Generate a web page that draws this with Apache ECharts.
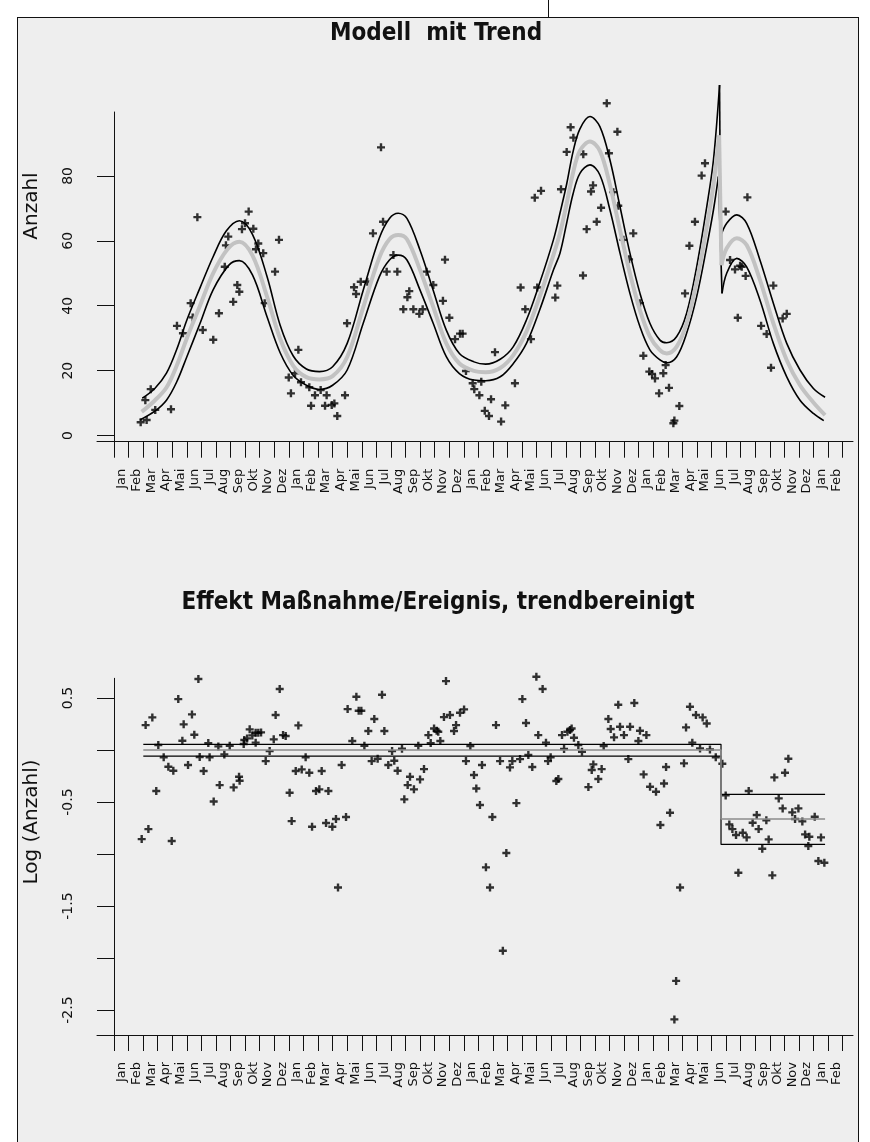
<!DOCTYPE html>
<html>
<head>
<meta charset="utf-8">
<title>Modell mit Trend</title>
<script src="https://cdn.jsdelivr.net/npm/echarts@6/dist/echarts.min.js"></script>
<style>
  html, body { margin: 0; padding: 0; background: #fff; }
  #panel { position: absolute; left: 17px; top: 17px; width: 840px; height: 1140px; background: #eeeeee; border: 1px solid #111; }
  #mark { position: absolute; left: 548px; top: 0; width: 1px; height: 17px; background: #111; }
  #main { position: absolute; left: 0; top: 0; width: 870px; height: 1142px; }
</style>
</head>
<body>
<div id="mark"></div>
<div id="panel"></div>
<div id="main"></div>
<script>
// Monatsnamen der x-Achse (Ticks 1..50)
var monate = ['Jan','Feb','Mar','Apr','Mai','Jun','Jul','Aug','Sep','Okt','Nov','Dez'];
var monthLabels = monate.concat(monate, monate, monate, ['Jan','Feb']);

// Beobachtete Anzahl je Woche [Monat, Anzahl]
var anzahlPts = [
  [1.83,4.1],[2.15,10.9],[2.24,4.8],[2.52,14.3],[2.83,7.9],[3.91,8.1],[4.32,33.8],[4.73,31.5],[5.26,40.8],[5.40,36.4],
  [5.72,67.3],[6.09,32.5],[6.81,29.5],[7.20,37.7],[7.60,52.0],[7.68,58.6],[7.84,61.3],[8.18,41.2],[8.46,46.4],[8.60,44.3],
  [8.78,63.6],[8.99,65.4],[9.24,69.0],[9.56,63.7],[9.74,57.4],[9.90,59.2],[10.24,56.2],[10.34,40.8],[11.05,50.5],[11.32,60.3],
  [11.99,17.9],[12.14,13.0],[12.42,19.2],[12.65,26.4],[12.83,16.4],[13.40,14.9],[13.52,9.2],[13.79,12.4],[14.18,14.0],[14.48,9.2],
  [14.59,12.4],[14.94,9.4],[15.12,9.9],[15.32,6.0],[15.85,12.4],[15.99,34.6],[16.47,45.7],[16.61,43.6],[16.93,47.4],[17.38,47.4],
  [17.77,62.3],[18.32,88.8],[18.46,65.9],[18.71,50.5],[19.17,55.6],[19.44,50.5],[19.85,38.9],[20.13,42.6],[20.26,44.5],[20.54,38.9],
  [20.95,37.5],[21.18,38.9],[21.45,50.5],[21.91,46.4],[22.57,41.5],[22.71,54.2],[23.01,36.3],[23.40,29.7],[23.74,31.4],[23.92,31.4],
  [24.15,19.9],[24.61,16.1],[24.72,14.3],[25.07,12.4],[25.20,16.6],[25.44,7.6],[25.73,6.0],[25.87,11.2],[26.14,25.7],[26.56,4.3],
  [26.85,9.3],[27.51,16.1],[27.90,45.6],[28.22,38.9],[28.61,29.7],[28.87,73.3],[29.04,45.6],[29.30,75.4],[30.28,42.5],[30.42,46.2],
  [30.67,75.9],[31.06,87.4],[31.33,95.0],[31.52,91.8],[32.18,49.3],[32.20,86.7],[32.43,63.6],[32.73,75.2],[32.87,77.1],[33.12,65.9],
  [33.42,70.2],[33.81,102.4],[33.96,87.0],[34.26,75.0],[34.54,93.6],[34.60,70.8],[34.95,60.3],[35.34,54.3],[35.63,62.3],[36.09,40.8],
  [36.32,24.6],[36.73,19.7],[36.92,19.0],[37.12,17.6],[37.40,13.0],[37.69,19.2],[37.85,21.7],[38.08,14.7],[38.38,3.8],[38.45,4.6],
  [38.79,9.1],[39.18,43.8],[39.48,58.5],[39.86,65.9],[40.32,80.1],[40.55,83.9],[41.97,69.0],[42.27,54.1],[42.61,51.2],[42.80,36.3],
  [42.96,52.3],[43.07,52.0],[43.34,49.2],[43.46,73.4],[44.40,33.8],[44.78,31.3],[45.08,20.9],[45.24,46.2],[45.88,36.1],[46.16,37.5]
];

// Modell: Obergrenze, Mitte, Untergrenze (vor / nach dem Sprung)
var upperPre = [
  [1.94,11.5],[2.8,14.5],[3.6,19.2],[4.3,26.5],[5.0,35.6],[5.9,45.5],[6.8,55.1],[7.7,63.0],[8.6,66.2],[9.5,62.0],
  [10.5,49.0],[11.4,34.0],[12.3,24.5],[13.2,20.5],[14.1,19.7],[15.0,21.2],[16.0,28.4],[17.1,44.8],[18.2,60.8],[18.9,66.9],
  [19.5,68.5],[20.1,66.9],[21.0,57.1],[21.9,44.8],[22.8,32.5],[23.7,25.3],[24.7,22.7],[25.5,22.0],[26.5,23.5],[27.4,27.4],
  [28.3,35.6],[29.2,46.9],[30.15,60.3],[30.6,68.5],[31.06,77.5],[31.5,87.5],[31.97,94.5],[32.66,98.3],[33.34,95.2],[34.03,84.9],
  [34.72,70.5],[35.4,56.2],[36.09,43.8],[36.77,34.6],[37.46,29.4],[37.92,28.6],[38.61,30.5],[39.29,37.7],[39.98,52.0],[40.67,70.5],
  [41.13,84.9],[41.55,108.0]
];
var upperPost = [[41.62,61.3],[42.04,65.4],[42.73,68.0],[43.41,65.4],[44.32,54.1],[45.24,40.8],[46.16,28.4],[47.07,20.2],[47.99,14.5],[48.79,11.8]];
var centerPre = [
  [1.9,7.3],[2.8,10.8],[3.6,14.8],[4.3,21.5],[5.0,30.0],[5.9,40.0],[6.8,50.0],[7.8,57.5],[8.6,59.7],[9.5,55.5],
  [10.5,42.8],[11.4,29.8],[12.3,21.5],[13.2,18.0],[14.1,17.3],[15.0,18.3],[16.0,24.2],[17.1,39.5],[18.2,54.8],[18.9,60.5],
  [19.5,61.8],[20.1,60.5],[21.0,51.0],[21.9,39.7],[22.8,28.4],[23.7,22.2],[24.7,19.9],[25.5,19.5],[26.5,20.8],[27.4,24.8],
  [28.3,32.0],[29.2,42.7],[30.15,55.6],[30.6,62.3],[31.06,71.5],[31.5,81.0],[31.97,87.8],[32.66,90.6],[33.34,87.7],[34.03,77.2],
  [34.72,63.3],[35.4,50.0],[36.09,38.6],[36.77,30.5],[37.46,26.3],[37.92,25.3],[38.61,27.4],[39.29,34.6],[39.98,47.4],[40.67,64.3],
  [41.13,77.2],[41.52,92.5]
];
var centerPost = [[41.68,52.5],[42.04,57.7],[42.73,60.8],[43.41,58.7],[44.32,48.0],[45.24,34.6],[46.16,23.2],[47.07,15.5],[47.99,10.2],[48.79,6.3]];
var lowerPre = [
  [1.78,4.8],[2.8,7.5],[3.6,10.9],[4.3,16.5],[5.0,24.3],[5.9,34.5],[6.8,44.9],[7.9,52.6],[8.6,53.9],[9.5,49.5],
  [10.5,36.6],[11.4,25.5],[12.3,18.5],[13.2,15.5],[14.1,14.2],[15.0,15.5],[16.0,20.2],[17.1,34.6],[18.2,48.9],[18.9,54.1],
  [19.5,55.6],[20.1,54.1],[21.0,44.8],[21.9,34.6],[22.8,24.3],[23.7,19.1],[24.7,17.1],[25.5,16.9],[26.5,18.1],[27.4,22.2],
  [28.3,28.4],[29.2,38.6],[30.15,51.0],[30.6,56.2],[31.06,65.5],[31.5,74.5],[31.97,80.8],[32.66,83.4],[33.34,80.3],[34.03,69.5],
  [34.72,56.2],[35.4,43.8],[36.09,33.5],[36.77,26.4],[37.46,23.3],[37.92,22.4],[38.61,24.3],[39.29,31.5],[39.98,42.8],[40.67,58.2],
  [41.13,69.5],[41.47,79.8]
];
var lowerPost = [[41.72,43.8],[42.04,50.0],[42.73,54.6],[43.41,52.0],[44.32,41.8],[45.24,28.4],[46.16,18.1],[47.07,10.9],[47.99,6.8],[48.7,4.6]];

// Effekt, trendbereinigt: log-Werte [Monat, Wert]
var effektPts = [
  [1.90,-0.856],[2.17,0.240],[2.36,-0.760],[2.63,0.314],[2.90,-0.394],[3.04,0.048],[3.41,-0.070],[3.73,-0.160],[3.96,-0.875],[4.07,-0.199],
  [4.41,0.490],[4.69,0.090],[4.78,0.247],[5.08,-0.144],[5.35,0.343],[5.51,0.147],[5.79,0.683],[5.88,-0.067],[6.15,-0.202],[6.47,0.067],
  [6.56,-0.070],[6.84,-0.494],[7.16,0.035],[7.25,-0.337],[7.57,-0.042],[7.94,0.042],[8.21,-0.359],[8.58,-0.256],[8.62,-0.295],[8.90,0.058],
  [8.94,0.096],[9.13,0.112],[9.31,0.199],[9.49,0.141],[9.72,0.167],[9.72,0.071],[9.90,0.167],[10.09,0.170],[10.41,-0.106],[10.68,-0.010],
  [10.96,0.103],[11.09,0.337],[11.37,0.587],[11.60,0.144],[11.78,0.135],[12.05,-0.410],[12.19,-0.683],[12.47,-0.202],[12.65,0.237],[12.88,-0.186],
  [13.15,-0.070],[13.40,-0.218],[13.59,-0.737],[13.86,-0.394],[14.09,-0.378],[14.25,-0.202],[14.55,-0.702],[14.71,-0.394],[14.98,-0.737],[15.23,-0.663],
  [15.37,-1.321],[15.62,-0.144],[15.92,-0.644],[16.03,0.394],[16.35,0.087],[16.63,0.513],[16.79,0.378],[16.97,0.378],[17.18,0.042],[17.45,0.183],
  [17.68,-0.106],[17.86,0.298],[18.09,-0.083],[18.39,0.532],[18.55,0.183],[18.82,-0.144],[19.08,-0.010],[19.23,-0.103],[19.46,-0.199],[19.76,0.013],
  [19.92,-0.474],[20.15,-0.337],[20.31,-0.256],[20.58,-0.378],[20.88,0.042],[21.00,-0.282],[21.27,-0.183],[21.57,0.144],[21.73,0.067],[21.96,0.208],
  [22.14,0.186],[22.25,0.176],[22.39,0.087],[22.64,0.317],[22.78,0.663],[23.05,0.337],[23.33,0.183],[23.47,0.240],[23.74,0.359],[24.02,0.391],
  [24.15,-0.106],[24.45,0.038],[24.70,-0.240],[24.86,-0.369],[25.11,-0.529],[25.25,-0.144],[25.52,-1.128],[25.80,-1.321],[25.96,-0.644],[26.21,0.240],
  [26.49,-0.106],[26.68,-1.930],[26.92,-0.990],[27.17,-0.167],[27.33,-0.106],[27.61,-0.510],[27.86,-0.087],[28.02,0.490],[28.27,0.260],[28.43,-0.048],
  [28.70,-0.163],[28.98,0.705],[29.11,0.144],[29.41,0.587],[29.64,0.071],[29.78,-0.106],[29.96,-0.070],[30.35,-0.298],[30.49,-0.279],[30.74,0.144],
  [30.88,0.010],[31.11,0.176],[31.29,0.192],[31.40,0.208],[31.56,0.119],[31.86,0.048],[32.11,-0.016],[32.55,-0.356],[32.78,-0.192],[32.89,-0.138],
  [33.23,-0.279],[33.46,-0.183],[33.60,0.038],[33.92,0.298],[34.08,0.202],[34.31,0.122],[34.60,0.436],[34.72,0.224],[34.99,0.144],[35.29,-0.087],
  [35.41,0.224],[35.70,0.452],[35.98,0.087],[36.09,0.186],[36.34,-0.234],[36.53,0.144],[36.78,-0.353],[37.19,-0.401],[37.49,-0.721],[37.74,-0.321],
  [37.88,-0.163],[38.15,-0.603],[38.45,-2.590],[38.57,-2.220],[38.84,-1.321],[39.11,-0.128],[39.25,0.218],[39.52,0.417],[39.68,0.071],[39.93,0.337],
  [40.21,0.016],[40.39,0.314],[40.67,0.256],[40.89,0.006],[41.29,-0.070],[41.74,-0.131],[41.97,-0.436],[42.22,-0.715],[42.43,-0.760],[42.68,-0.817],
  [42.84,-1.180],[43.14,-0.795],[43.41,-0.840],[43.55,-0.394],[43.82,-0.699],[44.10,-0.625],[44.23,-0.760],[44.48,-0.949],[44.76,-0.676],[44.92,-0.859],
  [45.17,-1.205],[45.31,-0.263],[45.61,-0.465],[45.88,-0.561],[46.04,-0.218],[46.27,-0.083],[46.54,-0.599],[46.73,-0.663],[46.96,-0.561],[47.23,-0.686],
  [47.42,-0.811],[47.64,-0.923],[47.71,-0.833],[48.08,-0.641],[48.33,-1.067],[48.51,-0.840],[48.74,-1.083]
];
// Stufenmodell: Niveau vor / nach der Maßnahme
var effUpper = [[2.01,0.055],[41.65,0.055],[41.65,-0.426],[48.79,-0.426]];
var effMid   = [[2.01,0],[41.65,0],[41.65,-0.663],[48.79,-0.663]];
var effLower = [[2.01,-0.058],[41.65,-0.058],[41.65,-0.907],[48.79,-0.907]];

var anzahlTicks = [0, 20, 40, 60, 80];
var logTicks = [0.5, 0, -0.5, -1, -1.5, -2, -2.5];
var logLabels = [0.5, -0.5, -1.5, -2.5];

var tickPos = [], labelPos = [];
for (var i = 0; i <= monthLabels.length; i++) { tickPos.push(i); if (i > 0) labelPos.push(i); }

var txtFont = 'DejaVu Sans';
var ink = '#111';
var plus = 'path://M2.8,0H5.2V2.8H8V5.2H5.2V8H2.8V5.2H0V2.8H2.8Z';
var titleFont = 'bold 24px "DejaVu Sans Condensed", "DejaVu Sans", sans-serif';

function monthAxis(g) {
  return {
    type: 'value', gridIndex: g, min: -1.1665, max: 50.706,
    axisLine: { onZero: false, lineStyle: { color: ink, width: 1 } },
    axisTick: { customValues: tickPos, length: 16, lineStyle: { color: ink, width: 1 } },
    axisLabel: {
      customValues: labelPos, rotate: 90, margin: 27, fontSize: 13, color: ink,
      fontFamily: txtFont, verticalAlign: 'bottom',
      formatter: function (v) { return monthLabels[Math.round(v) - 1]; }
    },
    splitLine: { show: false }
  };
}
function valueAxis(g, min, max, ticks, labels) {
  return {
    type: 'value', gridIndex: g, min: min, max: max,
    axisLine: { onZero: true, lineStyle: { color: ink, width: 1 } },
    axisTick: { customValues: ticks, length: 17, lineStyle: { color: ink, width: 1 } },
    axisLabel: { customValues: labels, rotate: 90, margin: 22, fontSize: 14, color: ink, fontFamily: txtFont },
    splitLine: { show: false }
  };
}
function curve(data, color, width, g, z) {
  return {
    type: 'line', xAxisIndex: g, yAxisIndex: g, data: data, smooth: 0.35,
    showSymbol: false, clip: false, z: z,
    lineStyle: { color: color, width: width }
  };
}
function drop(pre, post, color, width, z) {
  return curve([pre[pre.length - 1], post[0]], color, width, 0, z);
}
function step(data, color, width) {
  var s = curve(data, color, width, 1, 4);
  s.smooth = false;
  return s;
}

var chart = echarts.init(document.getElementById('main'));
chart.setOption({
  animation: false,
  grid: [
    { left: 97, right: 17, top: 112, height: 329.7 },
    { left: 97, right: 17, top: 678.3, height: 356.7 }
  ],
  xAxis: [monthAxis(0), monthAxis(1)],
  yAxis: [
    valueAxis(0, -1.9, 99.7, anzahlTicks, anzahlTicks),
    valueAxis(1, -2.74, 0.69, logTicks, logLabels)
  ],
  graphic: [
    { type: 'text', x: 436, y: 34, style: { text: 'Modell  mit Trend', font: titleFont, fill: ink, textAlign: 'center', textVerticalAlign: 'middle' } },
    { type: 'text', x: 438, y: 603, style: { text: 'Effekt Maßnahme/Ereignis, trendbereinigt', font: titleFont, fill: ink, textAlign: 'center', textVerticalAlign: 'middle' } },
    { type: 'text', x: 32, y: 206, rotation: Math.PI / 2, style: { text: 'Anzahl', font: '20px "DejaVu Sans", sans-serif', fill: ink, textAlign: 'center', textVerticalAlign: 'middle' } },
    { type: 'text', x: 32, y: 822, rotation: Math.PI / 2, style: { text: 'Log (Anzahl)', font: '20px "DejaVu Sans", sans-serif', fill: ink, textAlign: 'center', textVerticalAlign: 'middle' } }
  ],
  series: [
    { type: 'scatter', xAxisIndex: 0, yAxisIndex: 0, data: anzahlPts, symbol: plus, symbolSize: 8, clip: false, z: 2, itemStyle: { color: '#000' } },
    curve(upperPre, '#000', 1.6, 0, 3), drop(upperPre, upperPost, '#000', 1.6, 3), curve(upperPost, '#000', 1.6, 0, 3),
    curve(lowerPre, '#000', 1.6, 0, 3), drop(lowerPre, lowerPost, '#000', 1.6, 3), curve(lowerPost, '#000', 1.6, 0, 3),
    curve(centerPre, '#c2c2c2', 4, 0, 4), drop(centerPre, centerPost, '#c2c2c2', 4, 4), curve(centerPost, '#c2c2c2', 4, 0, 4),
    { type: 'scatter', xAxisIndex: 1, yAxisIndex: 1, data: effektPts, symbol: plus, symbolSize: 8, clip: false, z: 2, itemStyle: { color: '#000' } },
    step(effUpper, '#000', 1.2), step(effLower, '#000', 1.2), step(effMid, '#8c8c8c', 1.6)
  ]
});
</script>
</body>
</html>
